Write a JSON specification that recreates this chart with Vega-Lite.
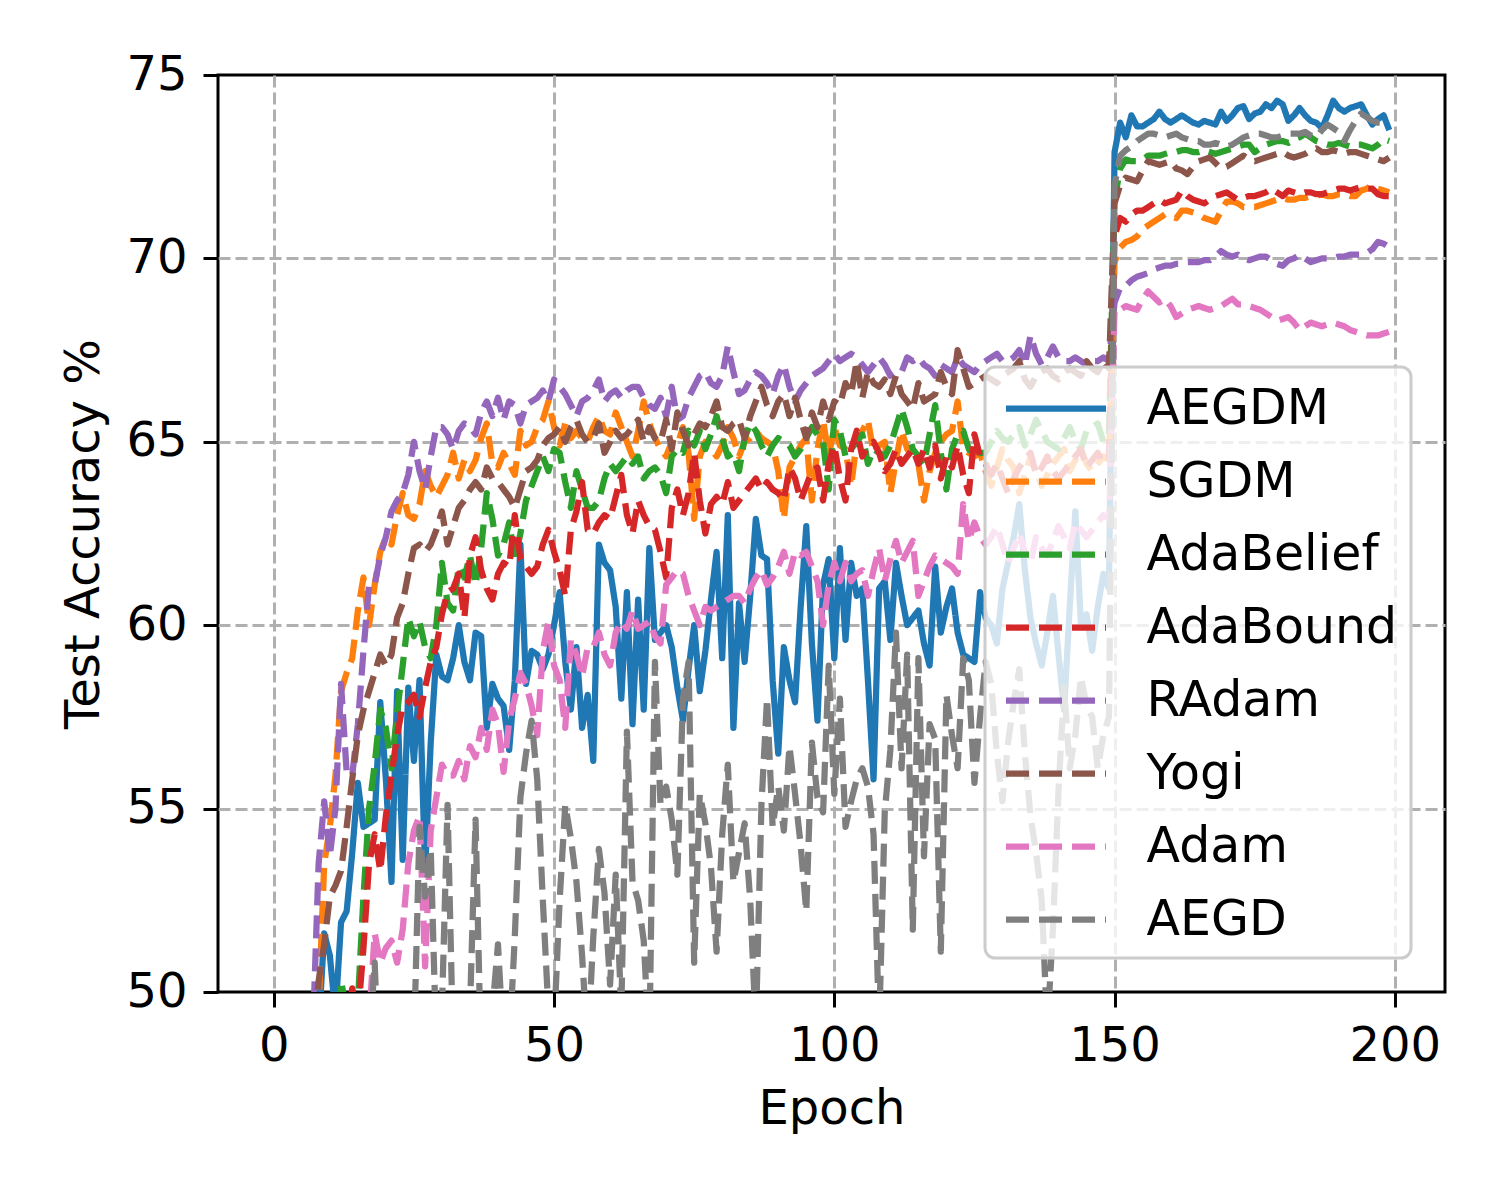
{
"$schema": "https://vega.github.io/schema/vega-lite/v6.json",
"width": 1227, "height": 917,
"autosize": {"type": "none"},
"padding": {"left": 218, "top": 75, "right": 55, "bottom": 208},
"background": "white",
"config": {
 "font": "DejaVu Sans",
 "view": {"stroke": "black", "strokeWidth": 3},
 "axis": {"domain": false, "grid": true, "gridColor": "#b0b0b0", "gridDash": [12,5], "gridWidth": 3, "tickColor": "black", "tickWidth": 3, "tickSize": 15, "labelFontSize": 48, "labelColor": "black", "titleFontSize": 48, "titleFontWeight": "normal", "titleColor": "black", "labelFont": "DejaVu Sans", "titleFont": "DejaVu Sans", "labelOverlap": false, "labelFlush": false},
 "legend": {"strokeWidth": 3}
},
"data": {"values": [
{"e":0,"AEGDM":20,"SGDM":15,"AdaBelief":10,"AdaBound":5,"RAdam":20,"Yogi":15,"Adam":5,"AEGD":5},
{"e":1,"AEGDM":28,"SGDM":22,"AdaBelief":15,"AdaBound":10,"RAdam":27,"Yogi":22,"Adam":10,"AEGD":8},
{"e":2,"AEGDM":34,"SGDM":28,"AdaBelief":20,"AdaBound":15,"RAdam":33,"Yogi":28,"Adam":15,"AEGD":11},
{"e":3,"AEGDM":38,"SGDM":33,"AdaBelief":25,"AdaBound":20,"RAdam":38,"Yogi":33,"Adam":20,"AEGD":14},
{"e":4,"AEGDM":41,"SGDM":37,"AdaBelief":29,"AdaBound":25,"RAdam":42,"Yogi":38,"Adam":25,"AEGD":17},
{"e":5,"AEGDM":43,"SGDM":41,"AdaBelief":33,"AdaBound":29,"RAdam":45,"Yogi":42,"Adam":29,"AEGD":20},
{"e":6,"AEGDM":45,"SGDM":44,"AdaBelief":36,"AdaBound":33,"RAdam":47,"Yogi":45,"Adam":33,"AEGD":23},
{"e":7,"AEGDM":46.5,"SGDM":46.5,"AdaBelief":39,"AdaBound":36,"RAdam":49,"Yogi":48,"Adam":36,"AEGD":26},
{"e":8,"AEGDM":49.0,"SGDM":49.5,"AdaBelief":41,"AdaBound":39,"RAdam":53.5,"Yogi":50.3,"Adam":39,"AEGD":29},
{"e":9,"AEGDM":51.6,"SGDM":53.5,"AdaBelief":43,"AdaBound":42,"RAdam":55.2,"Yogi":51.3,"Adam":41,"AEGD":32},
{"e":10,"AEGDM":51.0,"SGDM":54.5,"AdaBelief":45,"AdaBound":44,"RAdam":53.7,"Yogi":52.6,"Adam":43,"AEGD":35},
{"e":11,"AEGDM":49.4,"SGDM":55.9,"AdaBelief":47,"AdaBound":46,"RAdam":55.0,"Yogi":52.9,"Adam":44.5,"AEGD":37},
{"e":12,"AEGDM":51.9,"SGDM":58.2,"AdaBelief":50.3,"AdaBound":48,"RAdam":58.4,"Yogi":53.3,"Adam":45.5,"AEGD":39},
{"e":13,"AEGDM":52.2,"SGDM":58.7,"AdaBelief":49.5,"AdaBound":49.2,"RAdam":56.0,"Yogi":54.5,"Adam":46.5,"AEGD":41},
{"e":14,"AEGDM":53.8,"SGDM":59.1,"AdaBelief":48.8,"AdaBound":50.1,"RAdam":55.9,"Yogi":55.8,"Adam":47,"AEGD":43},
{"e":15,"AEGDM":55.7,"SGDM":60.4,"AdaBelief":49.7,"AdaBound":49.3,"RAdam":57.3,"Yogi":57.0,"Adam":47.5,"AEGD":45},
{"e":16,"AEGDM":54.5,"SGDM":61.3,"AdaBelief":52.6,"AdaBound":51.2,"RAdam":59.3,"Yogi":57.7,"Adam":48,"AEGD":46.5},
{"e":17,"AEGDM":54.6,"SGDM":60.0,"AdaBelief":55.0,"AdaBound":53.5,"RAdam":61.1,"Yogi":58.2,"Adam":49.2,"AEGD":48.5},
{"e":18,"AEGDM":54.7,"SGDM":61.1,"AdaBelief":56.2,"AdaBound":54.3,"RAdam":61.1,"Yogi":58.7,"Adam":51.6,"AEGD":50.8},
{"e":19,"AEGDM":57.9,"SGDM":62.0,"AdaBelief":57.7,"AdaBound":53.3,"RAdam":61.9,"Yogi":59.2,"Adam":50.8,"AEGD":47},
{"e":20,"AEGDM":55.8,"SGDM":62.4,"AdaBelief":57.2,"AdaBound":54.8,"RAdam":62.4,"Yogi":58.9,"Adam":51.2,"AEGD":45},
{"e":21,"AEGDM":53.0,"SGDM":62.2,"AdaBelief":56.1,"AdaBound":55.9,"RAdam":63.1,"Yogi":59.2,"Adam":51.4,"AEGD":44},
{"e":22,"AEGDM":58.2,"SGDM":63.0,"AdaBelief":57.6,"AdaBound":57.0,"RAdam":63.4,"Yogi":60.2,"Adam":50.8,"AEGD":45},
{"e":23,"AEGDM":53.6,"SGDM":63.6,"AdaBelief":58.9,"AdaBound":57.8,"RAdam":63.6,"Yogi":60.6,"Adam":51.7,"AEGD":46},
{"e":24,"AEGDM":58.3,"SGDM":63.0,"AdaBelief":60.2,"AdaBound":57.9,"RAdam":64.1,"Yogi":61.4,"Adam":53.5,"AEGD":47},
{"e":25,"AEGDM":56.3,"SGDM":62.9,"AdaBelief":59.7,"AdaBound":58.1,"RAdam":65.0,"Yogi":62.1,"Adam":54.4,"AEGD":48.5},
{"e":26,"AEGDM":58.5,"SGDM":63.3,"AdaBelief":60.1,"AdaBound":57.5,"RAdam":64.2,"Yogi":62.2,"Adam":54.8,"AEGD":54.5},
{"e":27,"AEGDM":53.3,"SGDM":64.2,"AdaBelief":59.4,"AdaBound":58.3,"RAdam":63.7,"Yogi":62.0,"Adam":50.7,"AEGD":52.6},
{"e":28,"AEGDM":56.8,"SGDM":63.8,"AdaBelief":59.1,"AdaBound":59.0,"RAdam":64.6,"Yogi":62.2,"Adam":54.4,"AEGD":53.9},
{"e":29,"AEGDM":59.2,"SGDM":63.5,"AdaBelief":60.0,"AdaBound":59.4,"RAdam":65.4,"Yogi":62.6,"Adam":55.3,"AEGD":48.5},
{"e":30,"AEGDM":58.6,"SGDM":63.8,"AdaBelief":61.7,"AdaBound":60.3,"RAdam":65.4,"Yogi":63.1,"Adam":56.2,"AEGD":49.5},
{"e":31,"AEGDM":58.5,"SGDM":64.1,"AdaBelief":60.6,"AdaBound":60.9,"RAdam":65.2,"Yogi":62.2,"Adam":55.9,"AEGD":55.1},
{"e":32,"AEGDM":59.1,"SGDM":64.7,"AdaBelief":60.4,"AdaBound":61.0,"RAdam":64.8,"Yogi":62.7,"Adam":55.9,"AEGD":48.5},
{"e":33,"AEGDM":60.0,"SGDM":64.0,"AdaBelief":61.6,"AdaBound":61.4,"RAdam":65.3,"Yogi":63.2,"Adam":56.3,"AEGD":46},
{"e":34,"AEGDM":59.0,"SGDM":64.5,"AdaBelief":61.3,"AdaBound":60.2,"RAdam":65.5,"Yogi":63.4,"Adam":55.8,"AEGD":47},
{"e":35,"AEGDM":58.5,"SGDM":64.2,"AdaBelief":61.9,"AdaBound":61.9,"RAdam":65.4,"Yogi":63.7,"Adam":56.7,"AEGD":49.5},
{"e":36,"AEGDM":59.8,"SGDM":64.5,"AdaBelief":61.1,"AdaBound":62.4,"RAdam":65.2,"Yogi":63.9,"Adam":56.4,"AEGD":54.7},
{"e":37,"AEGDM":59.7,"SGDM":65.1,"AdaBelief":62.1,"AdaBound":61.5,"RAdam":65.8,"Yogi":63.7,"Adam":57.2,"AEGD":48},
{"e":38,"AEGDM":57.2,"SGDM":65.5,"AdaBelief":63.6,"AdaBound":61.0,"RAdam":66.1,"Yogi":64.3,"Adam":56.6,"AEGD":48},
{"e":39,"AEGDM":58.4,"SGDM":64.4,"AdaBelief":62.9,"AdaBound":60.7,"RAdam":65.7,"Yogi":64.0,"Adam":57.7,"AEGD":49.5},
{"e":40,"AEGDM":58.0,"SGDM":64.3,"AdaBelief":61.9,"AdaBound":61.4,"RAdam":66.2,"Yogi":63.9,"Adam":57.3,"AEGD":51.3},
{"e":41,"AEGDM":57.8,"SGDM":64.7,"AdaBelief":62.2,"AdaBound":61.7,"RAdam":65.6,"Yogi":63.7,"Adam":56.0,"AEGD":48.5},
{"e":42,"AEGDM":56.6,"SGDM":64.4,"AdaBelief":62.8,"AdaBound":61.6,"RAdam":66.1,"Yogi":63.5,"Adam":57.4,"AEGD":48.5},
{"e":43,"AEGDM":58.5,"SGDM":64.1,"AdaBelief":61.8,"AdaBound":63.0,"RAdam":66.0,"Yogi":63.2,"Adam":58.0,"AEGD":51.5},
{"e":44,"AEGDM":62.2,"SGDM":65.3,"AdaBelief":62.5,"AdaBound":61.8,"RAdam":65.5,"Yogi":63.7,"Adam":58.7,"AEGD":55.3},
{"e":45,"AEGDM":58.4,"SGDM":64.9,"AdaBelief":63.4,"AdaBound":61.6,"RAdam":66.0,"Yogi":64.2,"Adam":58.4,"AEGD":56.5},
{"e":46,"AEGDM":59.3,"SGDM":65.0,"AdaBelief":63.8,"AdaBound":61.4,"RAdam":66.1,"Yogi":64.3,"Adam":57.8,"AEGD":57.4},
{"e":47,"AEGDM":59.2,"SGDM":65.4,"AdaBelief":64.2,"AdaBound":61.6,"RAdam":66.2,"Yogi":64.5,"Adam":57.0,"AEGD":55.8},
{"e":48,"AEGDM":58.8,"SGDM":65.6,"AdaBelief":64.6,"AdaBound":62.2,"RAdam":66.4,"Yogi":64.9,"Adam":59.3,"AEGD":52.5},
{"e":49,"AEGDM":59.2,"SGDM":66.1,"AdaBelief":64.2,"AdaBound":62.6,"RAdam":66.1,"Yogi":65.1,"Adam":60.1,"AEGD":49.5},
{"e":50,"AEGDM":60.0,"SGDM":65.4,"AdaBelief":64.8,"AdaBound":62.0,"RAdam":66.7,"Yogi":65.2,"Adam":58.9,"AEGD":49.0},
{"e":51,"AEGDM":60.9,"SGDM":64.9,"AdaBelief":64.7,"AdaBound":61.5,"RAdam":66.5,"Yogi":65.4,"Adam":58.5,"AEGD":52.5},
{"e":52,"AEGDM":59.0,"SGDM":65.5,"AdaBelief":63.9,"AdaBound":60.8,"RAdam":66.3,"Yogi":65.0,"Adam":57.2,"AEGD":55.1},
{"e":53,"AEGDM":57.7,"SGDM":65.1,"AdaBelief":63.2,"AdaBound":62.6,"RAdam":66.0,"Yogi":65.4,"Adam":59.6,"AEGD":54.2},
{"e":54,"AEGDM":59.4,"SGDM":65.3,"AdaBelief":64.2,"AdaBound":63.1,"RAdam":65.7,"Yogi":65.6,"Adam":59.2,"AEGD":53.0},
{"e":55,"AEGDM":57.2,"SGDM":65.1,"AdaBelief":63.7,"AdaBound":63.9,"RAdam":66.1,"Yogi":65.2,"Adam":58.6,"AEGD":51.0},
{"e":56,"AEGDM":58.1,"SGDM":65.0,"AdaBelief":63.2,"AdaBound":62.6,"RAdam":66.2,"Yogi":65.0,"Adam":59.4,"AEGD":48.5},
{"e":57,"AEGDM":56.3,"SGDM":65.4,"AdaBelief":63.2,"AdaBound":62.5,"RAdam":66.4,"Yogi":65.1,"Adam":59.4,"AEGD":51.5},
{"e":58,"AEGDM":62.2,"SGDM":65.7,"AdaBelief":63.4,"AdaBound":62.8,"RAdam":66.7,"Yogi":65.5,"Adam":59.8,"AEGD":53.9},
{"e":59,"AEGDM":61.7,"SGDM":65.3,"AdaBelief":64.0,"AdaBound":63.0,"RAdam":66.1,"Yogi":64.7,"Adam":59.2,"AEGD":52.7},
{"e":60,"AEGDM":61.5,"SGDM":65.2,"AdaBelief":64.4,"AdaBound":62.9,"RAdam":66.3,"Yogi":65.0,"Adam":58.9,"AEGD":50.2},
{"e":61,"AEGDM":60.5,"SGDM":65.8,"AdaBelief":64.2,"AdaBound":63.5,"RAdam":66.4,"Yogi":65.3,"Adam":59.8,"AEGD":53.2},
{"e":62,"AEGDM":58.0,"SGDM":65.4,"AdaBelief":64.4,"AdaBound":64.1,"RAdam":66.2,"Yogi":65.1,"Adam":60.1,"AEGD":49.5},
{"e":63,"AEGDM":60.9,"SGDM":65.0,"AdaBelief":64.6,"AdaBound":63.0,"RAdam":66.4,"Yogi":65.2,"Adam":59.9,"AEGD":57.1},
{"e":64,"AEGDM":57.3,"SGDM":64.6,"AdaBelief":64.4,"AdaBound":62.5,"RAdam":66.5,"Yogi":65.4,"Adam":60.4,"AEGD":53.0},
{"e":65,"AEGDM":60.7,"SGDM":65.3,"AdaBelief":64.6,"AdaBound":63.4,"RAdam":66.5,"Yogi":65.6,"Adam":59.9,"AEGD":52.5},
{"e":66,"AEGDM":57.7,"SGDM":66.1,"AdaBelief":64.0,"AdaBound":63.0,"RAdam":66.2,"Yogi":65.0,"Adam":60.0,"AEGD":51.4},
{"e":67,"AEGDM":62.1,"SGDM":65.5,"AdaBelief":64.2,"AdaBound":62.7,"RAdam":66.0,"Yogi":65.4,"Adam":60.1,"AEGD":48.5},
{"e":68,"AEGDM":59.6,"SGDM":65.1,"AdaBelief":64.3,"AdaBound":62.6,"RAdam":65.9,"Yogi":65.1,"Adam":59.7,"AEGD":59.0},
{"e":69,"AEGDM":59.8,"SGDM":64.8,"AdaBelief":64.1,"AdaBound":62.0,"RAdam":66.2,"Yogi":65.0,"Adam":59.5,"AEGD":55.1},
{"e":70,"AEGDM":60.0,"SGDM":64.6,"AdaBelief":63.6,"AdaBound":61.3,"RAdam":65.7,"Yogi":65.6,"Adam":61.1,"AEGD":55.6},
{"e":71,"AEGDM":59.4,"SGDM":65.0,"AdaBelief":64.6,"AdaBound":63.2,"RAdam":66.5,"Yogi":64.8,"Adam":61.3,"AEGD":54.7},
{"e":72,"AEGDM":58.3,"SGDM":64.9,"AdaBelief":64.8,"AdaBound":63.7,"RAdam":65.6,"Yogi":65.8,"Adam":61.5,"AEGD":53.2},
{"e":73,"AEGDM":57.4,"SGDM":65.4,"AdaBelief":64.7,"AdaBound":63.0,"RAdam":65.7,"Yogi":65.3,"Adam":61.4,"AEGD":58.0},
{"e":74,"AEGDM":58.8,"SGDM":64.7,"AdaBelief":65.3,"AdaBound":63.6,"RAdam":66.2,"Yogi":64.9,"Adam":60.8,"AEGD":59.0},
{"e":75,"AEGDM":60.0,"SGDM":62.9,"AdaBelief":64.9,"AdaBound":64.7,"RAdam":66.5,"Yogi":65.2,"Adam":60.4,"AEGD":50.8},
{"e":76,"AEGDM":58.2,"SGDM":64.6,"AdaBelief":65.3,"AdaBound":63.4,"RAdam":66.8,"Yogi":65.5,"Adam":60.0,"AEGD":55.4},
{"e":77,"AEGDM":59.3,"SGDM":65.0,"AdaBelief":64.8,"AdaBound":62.5,"RAdam":66.9,"Yogi":65.4,"Adam":60.5,"AEGD":54.6},
{"e":78,"AEGDM":60.7,"SGDM":64.8,"AdaBelief":65.2,"AdaBound":63.3,"RAdam":66.6,"Yogi":65.7,"Adam":60.4,"AEGD":53.4},
{"e":79,"AEGDM":62.0,"SGDM":64.6,"AdaBelief":65.7,"AdaBound":63.5,"RAdam":66.5,"Yogi":66.1,"Adam":60.5,"AEGD":51.1},
{"e":80,"AEGDM":59.1,"SGDM":64.9,"AdaBelief":65.1,"AdaBound":63.3,"RAdam":66.8,"Yogi":65.4,"Adam":60.6,"AEGD":54.3},
{"e":81,"AEGDM":63.0,"SGDM":65.4,"AdaBelief":64.6,"AdaBound":63.9,"RAdam":67.6,"Yogi":65.3,"Adam":60.7,"AEGD":56.2},
{"e":82,"AEGDM":57.2,"SGDM":65.1,"AdaBelief":64.7,"AdaBound":63.2,"RAdam":66.9,"Yogi":65.5,"Adam":60.8,"AEGD":53.0},
{"e":83,"AEGDM":60.6,"SGDM":64.6,"AdaBelief":64.2,"AdaBound":63.4,"RAdam":66.3,"Yogi":65.6,"Adam":60.8,"AEGD":53.8},
{"e":84,"AEGDM":59.0,"SGDM":65.0,"AdaBelief":65.1,"AdaBound":63.6,"RAdam":66.4,"Yogi":65.1,"Adam":60.6,"AEGD":54.6},
{"e":85,"AEGDM":60.8,"SGDM":65.1,"AdaBelief":65.5,"AdaBound":63.8,"RAdam":66.7,"Yogi":65.7,"Adam":61.0,"AEGD":52.5},
{"e":86,"AEGDM":62.9,"SGDM":65.3,"AdaBelief":65.3,"AdaBound":64.0,"RAdam":66.9,"Yogi":66.1,"Adam":61.3,"AEGD":49.0},
{"e":87,"AEGDM":61.9,"SGDM":65.1,"AdaBelief":64.9,"AdaBound":63.7,"RAdam":66.8,"Yogi":66.5,"Adam":61.5,"AEGD":55.1},
{"e":88,"AEGDM":61.8,"SGDM":65.0,"AdaBelief":64.6,"AdaBound":63.9,"RAdam":66.6,"Yogi":66.0,"Adam":61.1,"AEGD":58.0},
{"e":89,"AEGDM":58.5,"SGDM":64.9,"AdaBelief":64.9,"AdaBound":63.7,"RAdam":66.3,"Yogi":65.7,"Adam":61.3,"AEGD":54.5},
{"e":90,"AEGDM":56.5,"SGDM":64.2,"AdaBelief":65.1,"AdaBound":63.6,"RAdam":66.8,"Yogi":66.1,"Adam":61.6,"AEGD":55.6},
{"e":91,"AEGDM":59.4,"SGDM":62.9,"AdaBelief":65.0,"AdaBound":63.4,"RAdam":67.1,"Yogi":66.3,"Adam":62.0,"AEGD":54.4},
{"e":92,"AEGDM":58.5,"SGDM":64.3,"AdaBelief":64.9,"AdaBound":64.3,"RAdam":66.5,"Yogi":65.7,"Adam":61.4,"AEGD":56.7},
{"e":93,"AEGDM":57.9,"SGDM":64.6,"AdaBelief":64.6,"AdaBound":64.0,"RAdam":66.1,"Yogi":66.2,"Adam":62.0,"AEGD":55.4},
{"e":94,"AEGDM":60.5,"SGDM":64.9,"AdaBelief":64.8,"AdaBound":63.4,"RAdam":66.4,"Yogi":65.6,"Adam":61.9,"AEGD":54.0},
{"e":95,"AEGDM":62.7,"SGDM":65.1,"AdaBelief":65.1,"AdaBound":63.8,"RAdam":66.6,"Yogi":65.1,"Adam":62.0,"AEGD":52.2},
{"e":96,"AEGDM":59.5,"SGDM":63.4,"AdaBelief":65.4,"AdaBound":64.2,"RAdam":66.8,"Yogi":65.8,"Adam":61.6,"AEGD":56.8},
{"e":97,"AEGDM":57.4,"SGDM":64.8,"AdaBelief":65.2,"AdaBound":64.3,"RAdam":66.9,"Yogi":65.4,"Adam":61.2,"AEGD":55.3},
{"e":98,"AEGDM":61.1,"SGDM":65.6,"AdaBelief":65.0,"AdaBound":63.4,"RAdam":67.0,"Yogi":66.1,"Adam":60.0,"AEGD":54.9},
{"e":99,"AEGDM":61.8,"SGDM":64.6,"AdaBelief":63.7,"AdaBound":64.4,"RAdam":67.2,"Yogi":65.6,"Adam":61.1,"AEGD":58.9},
{"e":100,"AEGDM":59.1,"SGDM":65.4,"AdaBelief":65.6,"AdaBound":64.9,"RAdam":67.4,"Yogi":66.1,"Adam":61.7,"AEGD":55.4},
{"e":101,"AEGDM":62.1,"SGDM":64.9,"AdaBelief":65.3,"AdaBound":64.0,"RAdam":67.2,"Yogi":66.0,"Adam":61.2,"AEGD":58.0},
{"e":102,"AEGDM":59.6,"SGDM":64.8,"AdaBelief":64.6,"AdaBound":63.4,"RAdam":67.3,"Yogi":66.6,"Adam":61.7,"AEGD":54.5},
{"e":103,"AEGDM":61.7,"SGDM":63.8,"AdaBelief":64.8,"AdaBound":64.8,"RAdam":67.4,"Yogi":66.3,"Adam":61.2,"AEGD":55.2},
{"e":104,"AEGDM":60.8,"SGDM":65.0,"AdaBelief":65.0,"AdaBound":65.3,"RAdam":67.3,"Yogi":67.2,"Adam":61.4,"AEGD":55.8},
{"e":105,"AEGDM":61.0,"SGDM":65.3,"AdaBelief":65.2,"AdaBound":64.6,"RAdam":67.1,"Yogi":66.2,"Adam":61.5,"AEGD":56.1},
{"e":106,"AEGDM":58.5,"SGDM":65.6,"AdaBelief":64.4,"AdaBound":64.9,"RAdam":66.9,"Yogi":66.9,"Adam":60.8,"AEGD":55.6},
{"e":107,"AEGDM":55.8,"SGDM":64.7,"AdaBelief":64.8,"AdaBound":65.0,"RAdam":67.1,"Yogi":66.6,"Adam":61.5,"AEGD":54.3},
{"e":108,"AEGDM":61.0,"SGDM":64.9,"AdaBelief":64.7,"AdaBound":64.7,"RAdam":67.3,"Yogi":66.5,"Adam":62.1,"AEGD":49.0},
{"e":109,"AEGDM":61.2,"SGDM":65.0,"AdaBelief":64.6,"AdaBound":64.2,"RAdam":67.1,"Yogi":66.7,"Adam":61.2,"AEGD":54.9},
{"e":110,"AEGDM":59.6,"SGDM":63.6,"AdaBelief":64.9,"AdaBound":64.4,"RAdam":66.8,"Yogi":66.3,"Adam":61.8,"AEGD":56.6},
{"e":111,"AEGDM":61.7,"SGDM":64.5,"AdaBelief":65.4,"AdaBound":64.8,"RAdam":66.9,"Yogi":66.8,"Adam":62.3,"AEGD":59.8},
{"e":112,"AEGDM":60.8,"SGDM":65.3,"AdaBelief":65.9,"AdaBound":64.4,"RAdam":66.9,"Yogi":66.3,"Adam":61.7,"AEGD":56.1},
{"e":113,"AEGDM":60.0,"SGDM":64.8,"AdaBelief":65.4,"AdaBound":64.6,"RAdam":67.3,"Yogi":66.1,"Adam":62.0,"AEGD":59.2},
{"e":114,"AEGDM":60.2,"SGDM":64.6,"AdaBelief":64.8,"AdaBound":64.8,"RAdam":67.2,"Yogi":65.9,"Adam":62.3,"AEGD":51.7},
{"e":115,"AEGDM":60.4,"SGDM":64.4,"AdaBelief":64.6,"AdaBound":64.4,"RAdam":67.3,"Yogi":66.6,"Adam":60.8,"AEGD":59.1},
{"e":116,"AEGDM":59.5,"SGDM":63.4,"AdaBelief":64.4,"AdaBound":64.8,"RAdam":67.1,"Yogi":66.1,"Adam":61.2,"AEGD":53.7},
{"e":117,"AEGDM":58.9,"SGDM":64.2,"AdaBelief":65.2,"AdaBound":64.3,"RAdam":67.0,"Yogi":66.2,"Adam":61.6,"AEGD":57.3},
{"e":118,"AEGDM":61.6,"SGDM":64.7,"AdaBelief":66.0,"AdaBound":64.9,"RAdam":66.8,"Yogi":66.3,"Adam":61.9,"AEGD":56.9},
{"e":119,"AEGDM":59.8,"SGDM":65.0,"AdaBelief":64.7,"AdaBound":64.0,"RAdam":67.1,"Yogi":66.9,"Adam":61.8,"AEGD":51.1},
{"e":120,"AEGDM":60.5,"SGDM":65.2,"AdaBelief":63.7,"AdaBound":64.6,"RAdam":67.0,"Yogi":66.5,"Adam":61.7,"AEGD":58.1},
{"e":121,"AEGDM":61.0,"SGDM":65.3,"AdaBelief":64.8,"AdaBound":64.3,"RAdam":66.9,"Yogi":66.3,"Adam":61.6,"AEGD":57.0},
{"e":122,"AEGDM":59.8,"SGDM":66.1,"AdaBelief":65.2,"AdaBound":64.9,"RAdam":67.3,"Yogi":67.5,"Adam":61.4,"AEGD":56.1},
{"e":123,"AEGDM":59.2,"SGDM":64.8,"AdaBelief":65.3,"AdaBound":64.1,"RAdam":67.1,"Yogi":67.0,"Adam":63.3,"AEGD":59.1},
{"e":124,"AEGDM":59.1,"SGDM":64.7,"AdaBelief":64.8,"AdaBound":63.6,"RAdam":67.0,"Yogi":66.5,"Adam":62.3,"AEGD":58.5},
{"e":125,"AEGDM":59.0,"SGDM":64.6,"AdaBelief":64.6,"AdaBound":65.2,"RAdam":66.9,"Yogi":66.6,"Adam":62.8,"AEGD":55.7},
{"e":126,"AEGDM":60.9,"SGDM":64.7,"AdaBelief":64.7,"AdaBound":64.6,"RAdam":67.1,"Yogi":66.7,"Adam":62.4,"AEGD":57.5},
{"e":127,"AEGDM":60.2,"SGDM":64.2,"AdaBelief":64.7,"AdaBound":64.4,"RAdam":67.2,"Yogi":66.8,"Adam":62.2,"AEGD":59.0},
{"e":128,"AEGDM":60.0,"SGDM":63.8,"AdaBelief":65.0,"AdaBound":64.1,"RAdam":67.3,"Yogi":66.7,"Adam":62.4,"AEGD":58.4},
{"e":129,"AEGDM":59.5,"SGDM":64.3,"AdaBelief":65.3,"AdaBound":64.4,"RAdam":67.4,"Yogi":66.6,"Adam":62.7,"AEGD":56.5},
{"e":130,"AEGDM":61.0,"SGDM":64.8,"AdaBelief":65.1,"AdaBound":64.0,"RAdam":67.2,"Yogi":66.8,"Adam":62.2,"AEGD":55.2},
{"e":131,"AEGDM":61.7,"SGDM":64.5,"AdaBelief":65.0,"AdaBound":63.6,"RAdam":67.2,"Yogi":66.9,"Adam":61.7,"AEGD":56.8},
{"e":132,"AEGDM":62.4,"SGDM":64.3,"AdaBelief":65.2,"AdaBound":64.0,"RAdam":67.3,"Yogi":67.0,"Adam":62.1,"AEGD":57.9},
{"e":133,"AEGDM":63.3,"SGDM":63.6,"AdaBelief":65.4,"AdaBound":64.3,"RAdam":67.5,"Yogi":67.2,"Adam":62.5,"AEGD":58.8},
{"e":134,"AEGDM":61.5,"SGDM":64.1,"AdaBelief":64.9,"AdaBound":64.5,"RAdam":67.1,"Yogi":66.7,"Adam":62.0,"AEGD":56.5},
{"e":135,"AEGDM":60.2,"SGDM":64.6,"AdaBelief":65.2,"AdaBound":64.7,"RAdam":67.9,"Yogi":66.5,"Adam":61.7,"AEGD":54.8},
{"e":136,"AEGDM":59.5,"SGDM":64.2,"AdaBelief":65.6,"AdaBound":64.1,"RAdam":67.4,"Yogi":66.8,"Adam":62.4,"AEGD":53.8},
{"e":137,"AEGDM":58.9,"SGDM":63.8,"AdaBelief":65.3,"AdaBound":64.3,"RAdam":67.1,"Yogi":66.9,"Adam":62.1,"AEGD":52.5},
{"e":138,"AEGDM":59.8,"SGDM":64.1,"AdaBelief":65.0,"AdaBound":64.6,"RAdam":67.3,"Yogi":67.0,"Adam":61.9,"AEGD":49.0},
{"e":139,"AEGDM":60.8,"SGDM":64.4,"AdaBelief":64.9,"AdaBound":64.2,"RAdam":67.6,"Yogi":66.8,"Adam":62.3,"AEGD":51.7},
{"e":140,"AEGDM":59.2,"SGDM":64.6,"AdaBelief":64.8,"AdaBound":64.0,"RAdam":67.3,"Yogi":66.7,"Adam":62.7,"AEGD":55.5},
{"e":141,"AEGDM":57.7,"SGDM":64.8,"AdaBelief":65.1,"AdaBound":64.2,"RAdam":67.2,"Yogi":66.9,"Adam":62.4,"AEGD":58.3},
{"e":142,"AEGDM":60.5,"SGDM":64.2,"AdaBelief":65.4,"AdaBound":64.4,"RAdam":67.2,"Yogi":67.0,"Adam":62.1,"AEGD":56.1},
{"e":143,"AEGDM":63.1,"SGDM":64.5,"AdaBelief":65.0,"AdaBound":64.6,"RAdam":67.3,"Yogi":66.9,"Adam":62.8,"AEGD":57.0},
{"e":144,"AEGDM":60.0,"SGDM":64.8,"AdaBelief":64.8,"AdaBound":64.8,"RAdam":67.2,"Yogi":66.8,"Adam":62.6,"AEGD":58.6},
{"e":145,"AEGDM":60.3,"SGDM":64.4,"AdaBelief":65.3,"AdaBound":64.3,"RAdam":67.1,"Yogi":67.2,"Adam":62.4,"AEGD":57.8},
{"e":146,"AEGDM":59.3,"SGDM":64.2,"AdaBelief":65.4,"AdaBound":64.5,"RAdam":67.2,"Yogi":67.0,"Adam":62.6,"AEGD":57.5},
{"e":147,"AEGDM":60.5,"SGDM":64.4,"AdaBelief":65.5,"AdaBound":64.7,"RAdam":67.2,"Yogi":66.9,"Adam":62.8,"AEGD":56.1},
{"e":148,"AEGDM":61.4,"SGDM":64.6,"AdaBelief":65.0,"AdaBound":64.4,"RAdam":67.3,"Yogi":67.2,"Adam":63.0,"AEGD":57.0},
{"e":149,"AEGDM":61.0,"SGDM":64.5,"AdaBelief":65.2,"AdaBound":64.5,"RAdam":67.2,"Yogi":67.0,"Adam":62.9,"AEGD":57.5},
{"e":150,"AEGDM":72.9,"SGDM":69.9,"AdaBelief":71.6,"AdaBound":70.6,"RAdam":68.8,"Yogi":71.5,"Adam":68.6,"AEGD":72.0},
{"e":151,"AEGDM":73.7,"SGDM":70.3,"AdaBelief":72.45,"AdaBound":71.1,"RAdam":69.2,"Yogi":72.0,"Adam":68.6,"AEGD":72.8},
{"e":152,"AEGDM":73.3,"SGDM":70.45,"AdaBelief":72.7,"AdaBound":71.0,"RAdam":69.25,"Yogi":72.2,"Adam":68.7,"AEGD":72.95},
{"e":153,"AEGDM":73.9,"SGDM":70.5,"AdaBelief":72.65,"AdaBound":71.2,"RAdam":69.4,"Yogi":72.15,"Adam":68.65,"AEGD":73.05},
{"e":154,"AEGDM":73.6,"SGDM":70.6,"AdaBelief":72.65,"AdaBound":71.3,"RAdam":69.5,"Yogi":72.1,"Adam":68.6,"AEGD":73.2},
{"e":155,"AEGDM":73.6,"SGDM":70.8,"AdaBelief":72.7,"AdaBound":71.3,"RAdam":69.55,"Yogi":72.4,"Adam":68.9,"AEGD":73.3},
{"e":156,"AEGDM":73.7,"SGDM":70.9,"AdaBelief":72.8,"AdaBound":71.4,"RAdam":69.6,"Yogi":72.65,"Adam":69.1,"AEGD":73.4},
{"e":157,"AEGDM":73.8,"SGDM":71.0,"AdaBelief":72.8,"AdaBound":71.5,"RAdam":69.7,"Yogi":72.6,"Adam":68.95,"AEGD":73.4},
{"e":158,"AEGDM":74.0,"SGDM":71.1,"AdaBelief":72.8,"AdaBound":71.6,"RAdam":69.75,"Yogi":72.55,"Adam":68.8,"AEGD":73.35},
{"e":159,"AEGDM":73.8,"SGDM":71.2,"AdaBelief":72.85,"AdaBound":71.5,"RAdam":69.8,"Yogi":72.6,"Adam":68.9,"AEGD":73.3},
{"e":160,"AEGDM":73.7,"SGDM":71.15,"AdaBelief":72.9,"AdaBound":71.55,"RAdam":69.8,"Yogi":72.65,"Adam":68.7,"AEGD":73.35},
{"e":161,"AEGDM":73.8,"SGDM":71.1,"AdaBelief":72.9,"AdaBound":71.6,"RAdam":69.85,"Yogi":72.45,"Adam":68.4,"AEGD":73.4},
{"e":162,"AEGDM":73.9,"SGDM":71.3,"AdaBelief":72.95,"AdaBound":71.85,"RAdam":69.85,"Yogi":72.4,"Adam":68.5,"AEGD":73.3},
{"e":163,"AEGDM":73.8,"SGDM":71.3,"AdaBelief":72.95,"AdaBound":71.7,"RAdam":69.9,"Yogi":72.3,"Adam":68.6,"AEGD":73.25},
{"e":164,"AEGDM":73.7,"SGDM":71.25,"AdaBelief":72.9,"AdaBound":71.6,"RAdam":69.9,"Yogi":72.5,"Adam":68.65,"AEGD":73.2},
{"e":165,"AEGDM":73.65,"SGDM":71.2,"AdaBelief":72.9,"AdaBound":71.55,"RAdam":69.9,"Yogi":72.65,"Adam":68.7,"AEGD":73.2},
{"e":166,"AEGDM":73.75,"SGDM":71.1,"AdaBelief":72.95,"AdaBound":71.5,"RAdam":69.95,"Yogi":72.7,"Adam":68.65,"AEGD":73.1},
{"e":167,"AEGDM":73.7,"SGDM":71.05,"AdaBelief":72.9,"AdaBound":71.6,"RAdam":69.95,"Yogi":72.75,"Adam":68.6,"AEGD":73.1},
{"e":168,"AEGDM":73.65,"SGDM":71.0,"AdaBelief":72.85,"AdaBound":71.7,"RAdam":70.05,"Yogi":72.6,"Adam":68.65,"AEGD":73.15},
{"e":169,"AEGDM":74.0,"SGDM":71.3,"AdaBelief":72.9,"AdaBound":71.75,"RAdam":70.2,"Yogi":72.45,"Adam":68.7,"AEGD":73.1},
{"e":170,"AEGDM":73.75,"SGDM":71.55,"AdaBelief":72.95,"AdaBound":71.8,"RAdam":70.1,"Yogi":72.5,"Adam":68.8,"AEGD":73.05},
{"e":171,"AEGDM":73.9,"SGDM":71.55,"AdaBelief":73.0,"AdaBound":71.7,"RAdam":70.05,"Yogi":72.6,"Adam":68.9,"AEGD":73.1},
{"e":172,"AEGDM":74.1,"SGDM":71.5,"AdaBelief":73.05,"AdaBound":71.6,"RAdam":70.1,"Yogi":72.7,"Adam":68.75,"AEGD":73.2},
{"e":173,"AEGDM":74.15,"SGDM":71.4,"AdaBelief":73.1,"AdaBound":71.65,"RAdam":70.0,"Yogi":72.8,"Adam":68.75,"AEGD":73.3},
{"e":174,"AEGDM":73.8,"SGDM":71.4,"AdaBelief":73.1,"AdaBound":71.7,"RAdam":69.95,"Yogi":72.7,"Adam":68.7,"AEGD":73.35},
{"e":175,"AEGDM":73.95,"SGDM":71.4,"AdaBelief":72.9,"AdaBound":71.7,"RAdam":70.0,"Yogi":72.65,"Adam":68.65,"AEGD":73.4},
{"e":176,"AEGDM":74.0,"SGDM":71.45,"AdaBelief":73.0,"AdaBound":71.75,"RAdam":70.05,"Yogi":72.7,"Adam":68.6,"AEGD":73.4},
{"e":177,"AEGDM":74.2,"SGDM":71.5,"AdaBelief":73.1,"AdaBound":71.8,"RAdam":70.05,"Yogi":72.75,"Adam":68.5,"AEGD":73.35},
{"e":178,"AEGDM":74.1,"SGDM":71.55,"AdaBelief":73.15,"AdaBound":71.9,"RAdam":69.95,"Yogi":72.8,"Adam":68.4,"AEGD":73.3},
{"e":179,"AEGDM":74.3,"SGDM":71.6,"AdaBelief":73.2,"AdaBound":71.8,"RAdam":69.85,"Yogi":72.85,"Adam":68.3,"AEGD":73.3},
{"e":180,"AEGDM":74.2,"SGDM":71.65,"AdaBelief":73.2,"AdaBound":71.7,"RAdam":69.8,"Yogi":72.9,"Adam":68.35,"AEGD":73.35},
{"e":181,"AEGDM":73.75,"SGDM":71.6,"AdaBelief":73.15,"AdaBound":71.85,"RAdam":69.95,"Yogi":72.8,"Adam":68.4,"AEGD":73.4},
{"e":182,"AEGDM":73.9,"SGDM":71.6,"AdaBelief":73.25,"AdaBound":71.8,"RAdam":70.0,"Yogi":72.75,"Adam":68.25,"AEGD":73.4},
{"e":183,"AEGDM":74.1,"SGDM":71.65,"AdaBelief":73.3,"AdaBound":71.75,"RAdam":70.1,"Yogi":72.8,"Adam":68.05,"AEGD":73.4},
{"e":184,"AEGDM":73.9,"SGDM":71.65,"AdaBelief":73.4,"AdaBound":71.8,"RAdam":70.0,"Yogi":72.85,"Adam":68.15,"AEGD":73.45},
{"e":185,"AEGDM":73.75,"SGDM":71.7,"AdaBelief":73.3,"AdaBound":71.8,"RAdam":69.9,"Yogi":72.95,"Adam":68.25,"AEGD":73.35},
{"e":186,"AEGDM":73.7,"SGDM":71.7,"AdaBelief":73.2,"AdaBound":71.75,"RAdam":69.95,"Yogi":73.0,"Adam":68.2,"AEGD":73.3},
{"e":187,"AEGDM":73.55,"SGDM":71.75,"AdaBelief":73.15,"AdaBound":71.75,"RAdam":70.0,"Yogi":72.9,"Adam":68.15,"AEGD":73.5},
{"e":188,"AEGDM":73.9,"SGDM":71.7,"AdaBelief":73.1,"AdaBound":71.8,"RAdam":70.0,"Yogi":72.9,"Adam":68.2,"AEGD":73.65},
{"e":189,"AEGDM":74.3,"SGDM":71.7,"AdaBelief":73.1,"AdaBound":71.85,"RAdam":70.0,"Yogi":72.95,"Adam":68.25,"AEGD":73.55},
{"e":190,"AEGDM":74.1,"SGDM":71.75,"AdaBelief":73.15,"AdaBound":71.9,"RAdam":70.05,"Yogi":72.9,"Adam":68.2,"AEGD":73.45},
{"e":191,"AEGDM":74.0,"SGDM":71.75,"AdaBelief":73.1,"AdaBound":71.9,"RAdam":70.05,"Yogi":72.85,"Adam":68.15,"AEGD":73.2},
{"e":192,"AEGDM":74.1,"SGDM":71.7,"AdaBelief":73.05,"AdaBound":71.85,"RAdam":70.1,"Yogi":72.9,"Adam":68.05,"AEGD":73.5},
{"e":193,"AEGDM":74.15,"SGDM":71.7,"AdaBelief":73.1,"AdaBound":71.9,"RAdam":70.1,"Yogi":72.9,"Adam":68.0,"AEGD":73.75},
{"e":194,"AEGDM":74.2,"SGDM":71.85,"AdaBelief":73.1,"AdaBound":71.95,"RAdam":70.1,"Yogi":72.85,"Adam":67.95,"AEGD":73.95},
{"e":195,"AEGDM":73.9,"SGDM":71.9,"AdaBelief":73.05,"AdaBound":71.9,"RAdam":70.15,"Yogi":72.8,"Adam":67.9,"AEGD":73.85},
{"e":196,"AEGDM":73.65,"SGDM":72.0,"AdaBelief":73.0,"AdaBound":71.9,"RAdam":70.25,"Yogi":72.75,"Adam":67.9,"AEGD":73.75},
{"e":197,"AEGDM":73.8,"SGDM":71.9,"AdaBelief":73.1,"AdaBound":71.75,"RAdam":70.45,"Yogi":72.7,"Adam":67.9,"AEGD":73.7},
{"e":198,"AEGDM":73.9,"SGDM":71.85,"AdaBelief":73.25,"AdaBound":71.7,"RAdam":70.4,"Yogi":72.65,"Adam":67.95,"AEGD":73.7},
{"e":199,"AEGDM":73.5,"SGDM":71.8,"AdaBelief":73.2,"AdaBound":71.7,"RAdam":70.3,"Yogi":72.75,"Adam":68.0,"AEGD":73.65}
]},
"transform": [{"fold": ["AEGDM","SGDM","AdaBelief","AdaBound","RAdam","Yogi","Adam","AEGD"], "as": ["method","acc"]}],
"mark": {"type": "line", "clip": true, "strokeWidth": 6.25, "strokeJoin": "round", "strokeCap": "butt"},
"encoding": {
 "x": {"field": "e", "type": "quantitative", "scale": {"domain": [-9.95, 208.95], "nice": false, "zero": false}, "axis": {"values": [0,50,100,150,200], "title": "Epoch", "labelPadding": 15, "titlePadding": 15}},
 "y": {"field": "acc", "type": "quantitative", "scale": {"domain": [50, 75], "nice": false, "zero": false}, "axis": {"values": [50,55,60,65,70,75], "title": "Test Accuracy %", "labelPadding": 16, "titlePadding": 17, "gridOpacity": {"condition": {"test": "datum.value == 50 || datum.value == 75", "value": 0}, "value": 1}}},
 "color": {"field": "method", "type": "nominal",
   "scale": {"domain": ["AEGDM","SGDM","AdaBelief","AdaBound","RAdam","Yogi","Adam","AEGD"], "range": ["#1f77b4","#ff7f0e","#2ca02c","#d62728","#9467bd","#8c564b","#e377c2","#7f7f7f"]},
   "legend": {"title": null, "orient": "none", "legendX": 767, "legendY": 292, "symbolType": "M-2,0L2,0", "symbolSize": 2500, "symbolStrokeWidth": 6.25, "symbolOffset": 29.5, "labelFontSize": 49, "labelColor": "black", "labelOffset": 62, "labelLimit": 600, "rowPadding": 19, "padding": 13, "fillColor": "rgba(255,255,255,0.8)", "strokeColor": "#cccccc", "cornerRadius": 10}},
 "strokeDash": {"field": "method", "type": "nominal",
   "scale": {"domain": ["AEGDM","SGDM","AdaBelief","AdaBound","RAdam","Yogi","Adam","AEGD"], "range": [[1,0],[23,10],[23,10],[23,10],[23,10],[23,10],[23,10],[23,10]]},
   "legend": {"title": null, "orient": "none", "legendX": 767, "legendY": 292, "symbolType": "M-2,0L2,0", "symbolSize": 2500, "symbolStrokeWidth": 6.25, "symbolOffset": 29.5, "labelFontSize": 49, "labelColor": "black", "labelOffset": 62, "labelLimit": 600, "rowPadding": 19, "padding": 13, "fillColor": "rgba(255,255,255,0.8)", "strokeColor": "#cccccc", "cornerRadius": 10}}
}
}
